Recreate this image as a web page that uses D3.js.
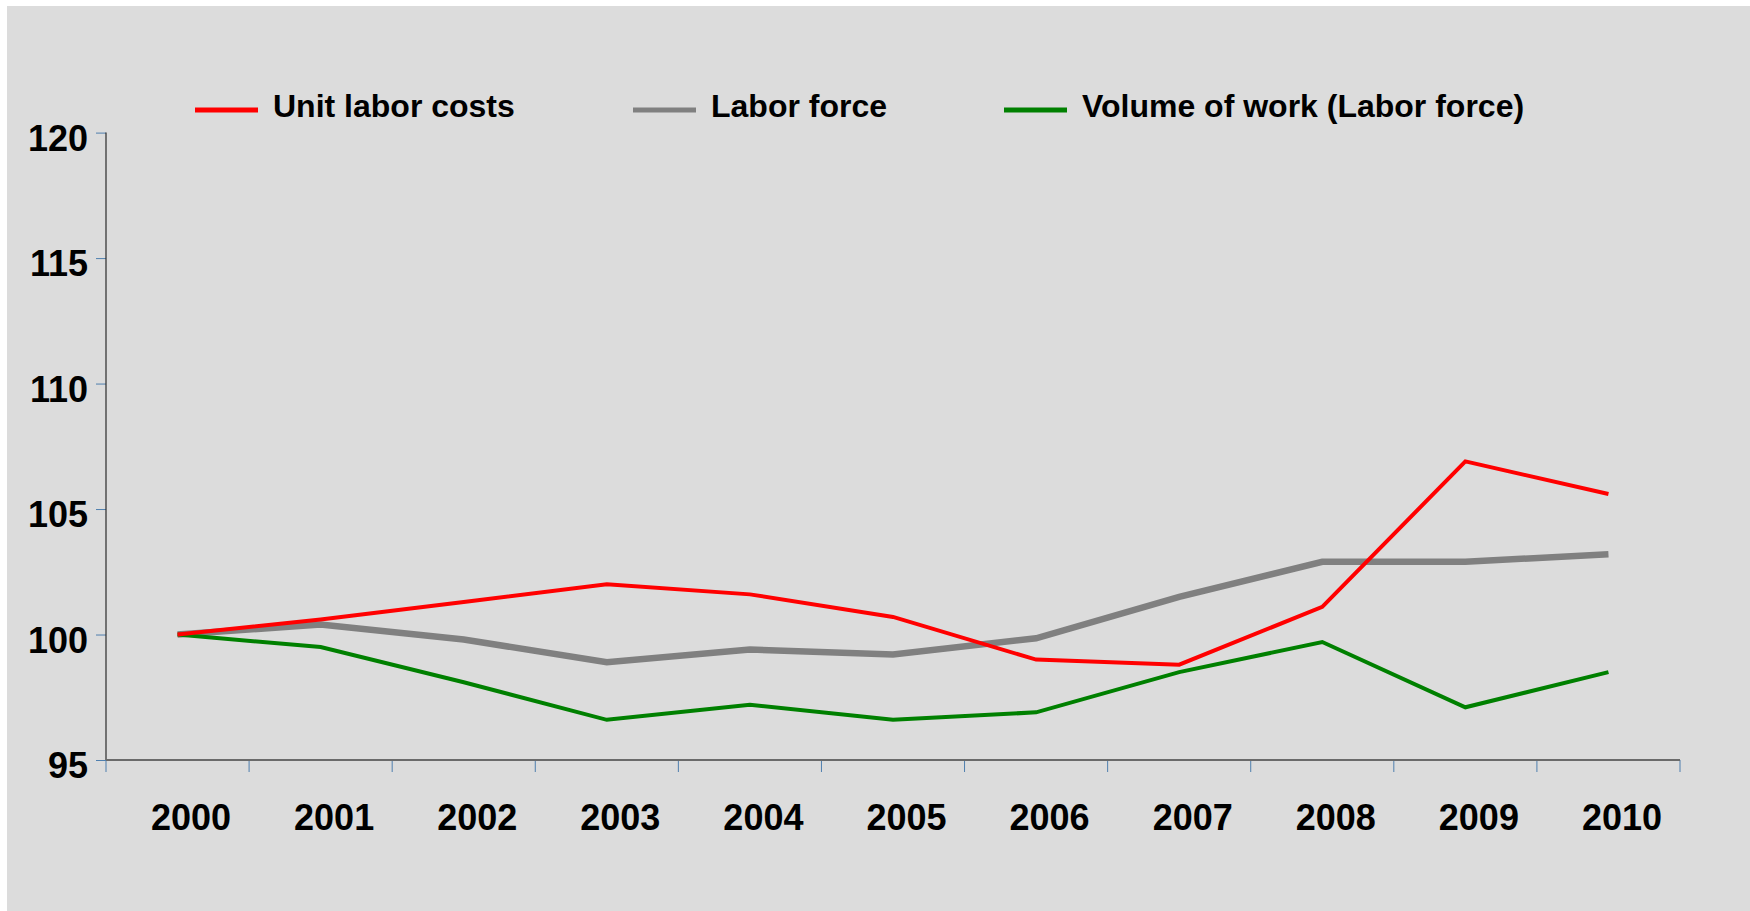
<!DOCTYPE html>
<html>
<head>
<meta charset="utf-8">
<script src="https://cdn.jsdelivr.net/npm/d3@7"></script>
<style>
  html, body { margin: 0; padding: 0; background: #ffffff; }
  svg { display: block; }
  text { font-family: "Liberation Sans", Arial, sans-serif; font-weight: bold; fill: #000; }
</style>
</head>
<body>
<svg id="chart" width="1750" height="911"></svg>
<script>
// Index values, 2000 = 100
const years = ["2000", "2001", "2002", "2003", "2004", "2005", "2006", "2007", "2008", "2009", "2010"];
const unitLaborCosts = [100.0, 100.6, 101.3, 102.0, 101.6, 100.7, 99.0, 98.8, 101.1, 106.9, 105.6];
const laborForce     = [100.0, 100.4, 99.8, 98.9, 99.4, 99.2, 99.85, 101.5, 102.9, 102.9, 103.2];
const volumeOfWork   = [100.0, 99.5, 98.1, 96.6, 97.2, 96.6, 96.9, 98.5, 99.7, 97.1, 98.5];
const yTicks = [95, 100, 105, 110, 115, 120];

const seriesNames = ["Unit labor costs", "Labor force", "Volume of work (Labor force)"];
const seriesColors = ["#ff0000", "#808080", "#008000"];
const seriesWidths = [4, 6.5, 4];
const seriesValues = [unitLaborCosts, laborForce, volumeOfWork];

const svg = d3.select("#chart");

// panel background
svg.append("rect")
  .attr("x", 7).attr("y", 6)
  .attr("width", 1743).attr("height", 905)
  .attr("fill", "#dcdcdc");

const plotLeft = 106, plotRight = 1680, plotTop = 132.6, plotBottom = 760;

const x = d3.scaleBand().domain(years).range([plotLeft, plotRight]).padding(0);
const y = d3.scaleLinear().domain([95, 120]).range([plotBottom, plotTop]);

// y axis
const yAxis = svg.append("g")
  .attr("transform", `translate(${plotLeft},0)`)
  .call(d3.axisLeft(y).tickValues(yTicks).tickSize(10).tickPadding(8).tickFormat(d3.format("d")));
yAxis.select(".domain").remove();
yAxis.selectAll(".tick line").attr("stroke", "#4f7fae").attr("stroke-width", 1);
yAxis.selectAll(".tick text")
  .attr("font-size", 36)
  .attr("dy", null)
  .attr("y", 17.5)
  .style("font-family", '"Liberation Sans", Arial, sans-serif')
  .style("font-weight", "bold")
  .attr("fill", "#000");
svg.append("line")
  .attr("x1", plotLeft).attr("x2", plotLeft)
  .attr("y1", y(120)).attr("y2", y(95))
  .attr("stroke", "#2a2a2a").attr("stroke-width", 1.2);

// x axis: ticks on category boundaries, labels in each band
const boundaries = years.map(d => x(d)).concat([x(years[years.length - 1]) + x.bandwidth()]);
svg.append("g").selectAll("line")
  .data(boundaries)
  .join("line")
  .attr("x1", d => d).attr("x2", d => d)
  .attr("y1", plotBottom).attr("y2", plotBottom + 12)
  .attr("stroke", "#4f7fae").attr("stroke-width", 1);
svg.append("line")
  .attr("x1", plotLeft).attr("x2", plotRight)
  .attr("y1", plotBottom).attr("y2", plotBottom)
  .attr("stroke", "#6a6a6a").attr("stroke-width", 2);
svg.append("g").selectAll("text")
  .data(years)
  .join("text")
  .attr("x", d => x(d) + x.bandwidth() / 2 + 13.5)
  .attr("y", 830)
  .attr("text-anchor", "middle")
  .attr("font-size", 36)
  .text(d => d);

// series lines
const line = d3.line()
  .x((d, i) => x(years[i]) + x.bandwidth() / 2)
  .y(d => y(d));

const order = [1, 2, 0];
order.forEach(k => {
  svg.append("path")
    .datum(seriesValues[k])
    .attr("d", line)
    .attr("fill", "none")
    .attr("stroke", seriesColors[k])
    .attr("stroke-width", seriesWidths[k])
    .attr("stroke-linejoin", "miter")
    .attr("stroke-linecap", "butt");
});

// legend
const legendX = [195, 633, 1004];
const legend = svg.append("g");
seriesNames.forEach((name, i) => {
  legend.append("line")
    .attr("x1", legendX[i]).attr("x2", legendX[i] + 63)
    .attr("y1", 110).attr("y2", 110)
    .attr("stroke", seriesColors[i])
    .attr("stroke-width", 5);
  legend.append("text")
    .attr("x", legendX[i] + 78)
    .attr("y", 117)
    .attr("font-size", 32)
    .text(name);
});
</script>
</body>
</html>
